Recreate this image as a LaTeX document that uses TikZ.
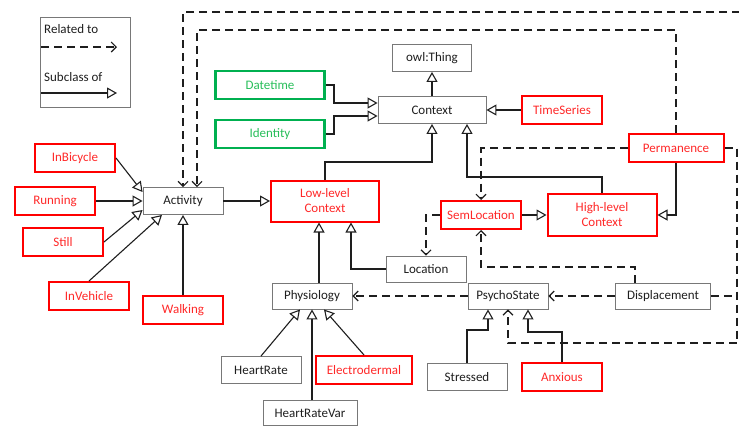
\documentclass[tikz,border=0pt]{standalone}
\usepackage{fontspec}
\setmainfont{Carlito}
\usetikzlibrary{arrows.meta}
\definecolor{boxgray}{RGB}{120,120,120}
\definecolor{rred}{RGB}{255,0,0}
\definecolor{rtext}{RGB}{255,40,40}
\definecolor{ggreen}{RGB}{0,176,80}
\definecolor{gtext}{RGB}{40,190,90}
\definecolor{ink}{RGB}{30,30,30}
\begin{document}
\begin{tikzpicture}[x=1pt,y=-1pt,
  every node/.style={font=\fontsize{13}{15}\selectfont, inner sep=0pt},
  plainbox/.style={draw=boxgray, line width=0.9pt, minimum height=27pt, minimum width=80pt, text=ink},
  redbox/.style={draw=rred, line width=2pt, minimum height=28pt, minimum width=80pt, text=rtext, align=center},
  greenbox/.style={draw=ggreen, line width=2.4pt, minimum height=28pt, minimum width=109pt, text=gtext},
  sub/.style={draw=ink, line width=1.1pt, -{Triangle[open,length=10pt,width=11pt]}},
  rel/.style={draw=ink, line width=1.1pt, dash pattern=on 8pt off 5pt, -{Straight Barb[length=5pt,width=10pt]}},
  relplain/.style={draw=ink, line width=1.1pt, dash pattern=on 8pt off 5pt},
]
\useasboundingbox (0,0) rectangle (739,426);

% legend
\node[draw=boxgray, line width=0.9pt, minimum width=90pt, minimum height=90pt] (legend) at (85,62) {};
\node[anchor=west, text=ink] (lrel) at (44,29) {Related to};
\node[anchor=west, text=ink] (lsub) at (44,77) {Subclass of};
\coordinate (lr1) at (41,47); \coordinate (lr2) at (117,47);
\coordinate (ls1) at (41,93); \coordinate (ls2) at (117,93);
\draw[rel] (lr1) -- (lr2);
\draw[sub] (ls1) -- (ls2);

% nodes
\node[plainbox, minimum width=79pt] (owl) at (432,58) {owl:Thing};
\node[plainbox, minimum width=108pt] (context) at (432,110) {Context};
\node[greenbox] (datetime) at (270,85) {Datetime};
\node[greenbox] (identity) at (270,134) {Identity};
\node[redbox] (timeseries) at (562,110) {TimeSeries};
\node[redbox, minimum width=95pt] (perm) at (676,148) {Permanence};
\node[redbox, minimum width=109pt, minimum height=42pt] (highlevel) at (602,215) {High-level\\Context};
\node[redbox] (semloc) at (481,215) {SemLocation};
\node[redbox, minimum width=108pt, minimum height=41pt] (lowlevel) at (325,201) {Low-level\\Context};
\node[plainbox] (activity) at (183,201) {Activity};
\node[redbox] (inbicycle) at (75,158) {InBicycle};
\node[redbox] (running) at (55,201) {Running};
\node[redbox] (still) at (63,242) {Still};
\node[redbox] (invehicle) at (89,296) {InVehicle};
\node[redbox] (walking) at (183,310) {Walking};
\node[plainbox, minimum height=26pt] (location) at (426,269) {Location};
\node[plainbox, minimum height=26pt] (physiology) at (312,296) {Physiology};
\node[plainbox] (heartrate) at (261,370) {HeartRate};
\node[redbox, minimum width=96pt] (electro) at (364,370) {Electrodermal};
\node[plainbox, minimum width=94pt, minimum height=25pt] (hrv) at (310,413) {HeartRateVar};
\node[plainbox, minimum height=26pt] (psycho) at (508,296) {PsychoState};
\node[plainbox, minimum width=95pt, minimum height=26pt] (displacement) at (663,296) {Displacement};
\node[plainbox] (stressed) at (467,377) {Stressed};
\node[redbox] (anxious) at (562,377) {Anxious};

% subclass connectors
\draw[sub] (context.north) -- (owl.south);
\draw[sub] (datetime.east) -- (334,85) -- (334,103) -- ([yshift=7pt]context.west);
\draw[sub] (identity.east) -- (334,134) -- (334,116) -- ([yshift=-6pt]context.west);
\draw[sub] (timeseries.west) -- (context.east);
\draw[sub] (lowlevel.north) -- (325,162) -- (432,162) -- (context.south);
\draw[sub] (highlevel.north) -- (602,177) -- (467,177) -- ([xshift=35pt]context.south);
\draw[sub] (semloc.east) -- (highlevel.west);
\draw[sub] (perm.south) -- (676,215) -- (highlevel.east);
\draw[sub] (activity.east) -- (lowlevel.west);
\draw[sub] (location.west) -- (351,269) -- ([xshift=26pt]lowlevel.south);
\draw[sub] ([xshift=7pt]physiology.north) -- ([xshift=-6pt]lowlevel.south);
\draw[sub] (inbicycle.east) -- ([yshift=9pt]activity.west);
\draw[sub] (running.east) -- (activity.west);
\draw[sub] (still.east) -- ([yshift=-9pt]activity.west);
\draw[sub] (invehicle.north) -- ([xshift=-21pt]activity.south);
\draw[sub] (walking.north) -- (activity.south);
\draw[sub] (heartrate.north) -- ([xshift=-12pt]physiology.south);
\draw[sub] (hrv.north -| physiology.south) -- (physiology.south);
\draw[sub] (electro.north) -- ([xshift=12pt]physiology.south);
\draw[sub] (stressed.north) -- (467,330) -- (488,330) -- ([xshift=-20pt]psycho.south);
\draw[sub] (anxious.north) -- (562,332) -- (528,332) -- ([xshift=20pt]psycho.south);

% related-to connectors
\coordinate (outer) at (740,12);
\draw[rel] (outer) -- (183,12) -- (activity.north);
\draw[rel] (perm.north) -- (676,30) -- (197,30) -- ([xshift=14pt]activity.north);
\draw[rel] (perm.west) -- (481,148) -- (semloc.north);
\draw[rel] (semloc.west) -- (426,215) -- (location.north);
\draw[rel] ([xshift=-28pt]displacement.north) -- (635,267) -- (481,267) -- (semloc.south);
\draw[rel] (displacement.west) -- (psycho.east);
\draw[rel] (psycho.west) -- (physiology.east);
\draw[rel] (perm.east) -- (737,148) -- (737,343) -- (508,343) -- (psycho.south);
\draw[relplain] (displacement.east) -- (737,296);
\end{tikzpicture}
\end{document}
